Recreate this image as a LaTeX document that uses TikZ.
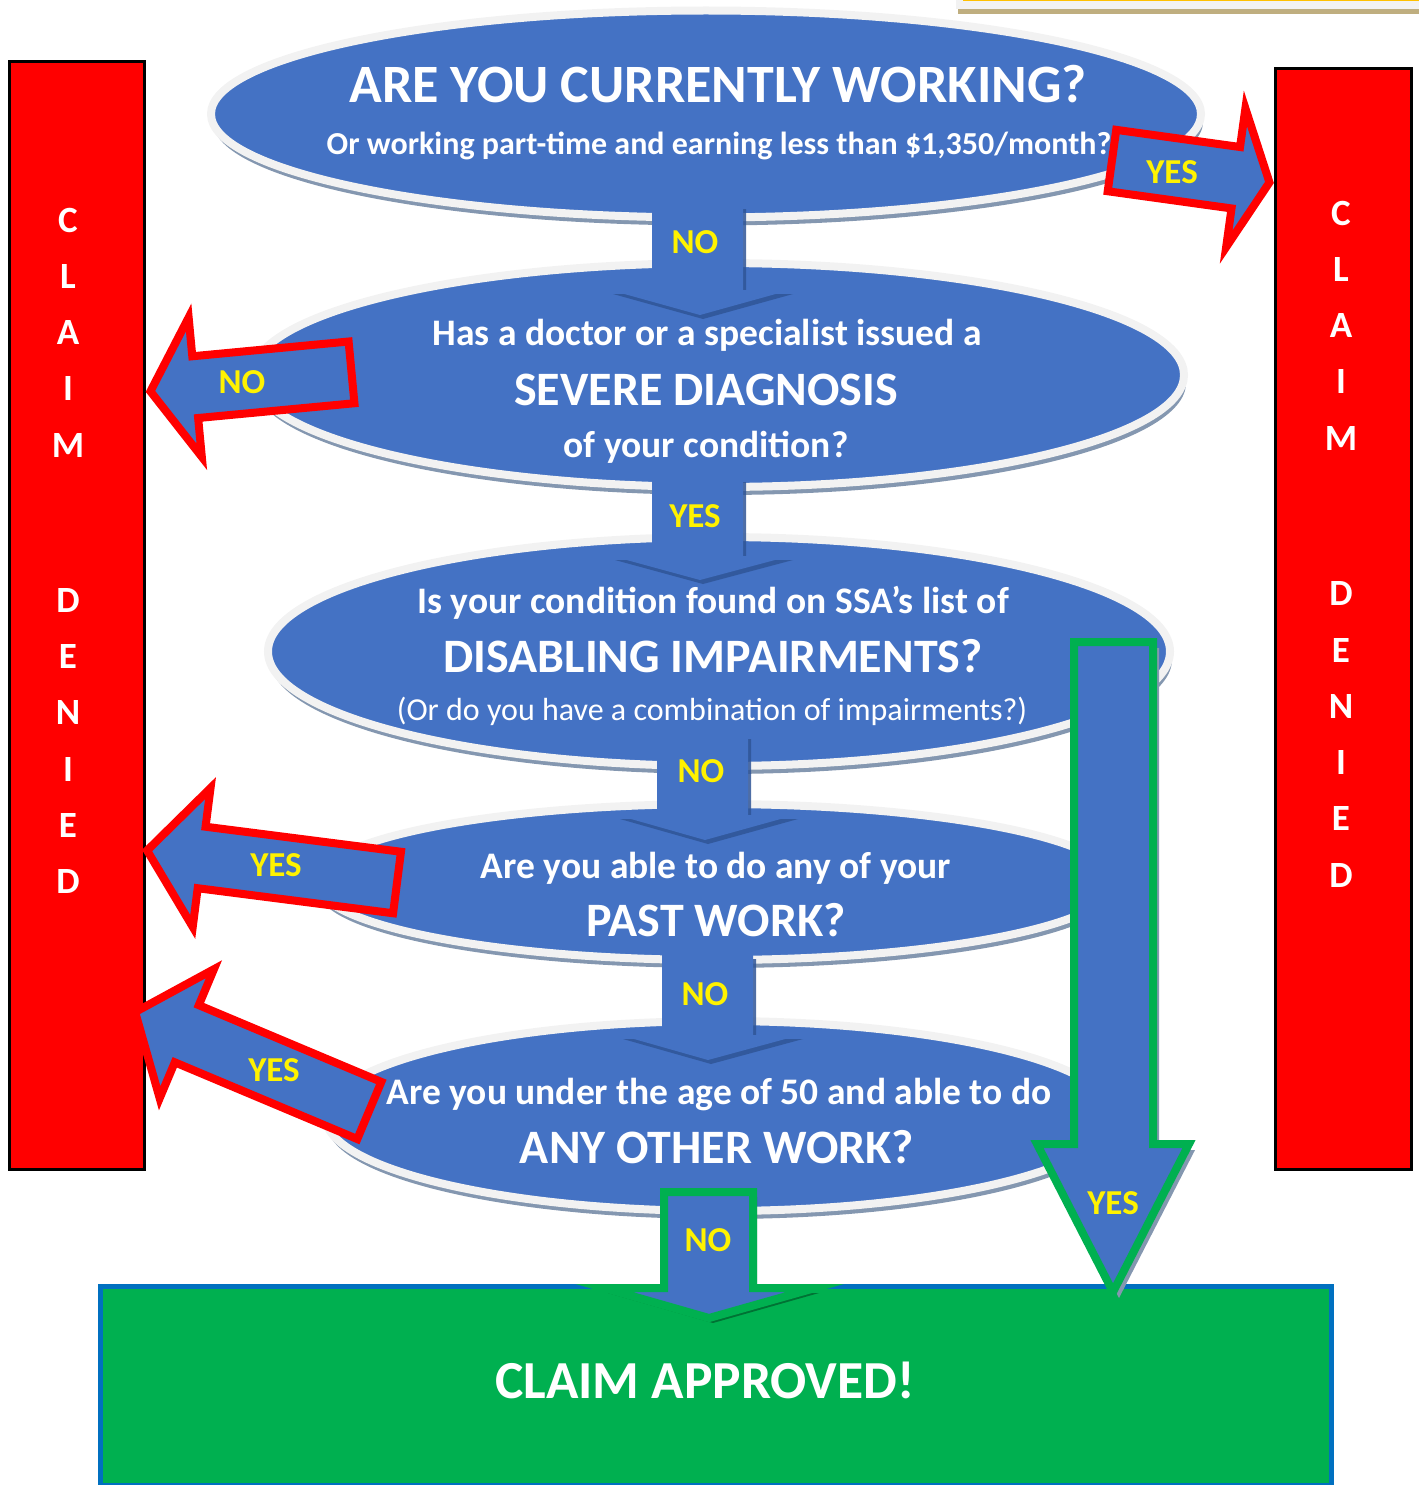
\documentclass[tikz,border=0pt]{standalone}
\usepackage{fontspec}
\setmainfont{Carlito}
\usetikzlibrary{shapes.geometric,shadows}

\definecolor{askblue}{HTML}{4472C4}
\definecolor{ringgray}{HTML}{F2F2F2}
\definecolor{shadegray}{HTML}{8497B0}
\definecolor{darkblue}{HTML}{2F5597}
\definecolor{okgreen}{HTML}{00B050}
\definecolor{boxblue}{HTML}{0070C0}
\definecolor{bartan}{HTML}{BFAE7F}
\definecolor{baryellow}{HTML}{FFC000}

\newcommand{\txtsize}[1]{\fontsize{#1}{#1}\selectfont}

% red side arrow: tail x, tail y, angle, head base, tip
\newcommand{\sidearrow}[5]{%
  \begin{scope}[shift={(#1,#2)}, rotate=#3]
    \draw[sidebody] (4,-31) -- (#4,-31) -- (#4,-70) -- (#5,0) -- (#4,70) -- (#4,31) -- (4,31) -- cycle;
  \end{scope}}

% blue down arrow: shaft left, shaft right, top, head base, head left, head right, tip x, tip y
\newcommand{\stepdown}[8]{%
  \fill[darkblue, opacity=.85, shift={(3,4)}] (#1,#3) -- (#2,#3) -- (#2,#4) -- (#6,#4) -- (#7,#8) -- (#5,#4) -- (#1,#4) -- cycle;
  \fill[askblue] (#1,#3) -- (#2,#3) -- (#2,#4) -- (#6,#4) -- (#7,#8) -- (#5,#4) -- (#1,#4) -- cycle;}

\begin{document}
\begin{tikzpicture}[x=1pt, y=-1pt, line join=miter,
    ask/.style={ellipse, fill=askblue, draw=ringgray, line width=8pt, inner sep=0pt,
      drop shadow={shadow xshift=2pt, shadow yshift=-8pt, fill=shadegray, opacity=1}},
    qtext/.style={text=white, anchor=base, inner sep=0pt},
    answer/.style={text=yellow, font=\bfseries\txtsize{35}, inner sep=0pt},
    denybar/.style={rectangle, fill=red, draw=black, line width=3pt, inner sep=0pt, anchor=north west},
    denytext/.style={text=white, align=center, font=\bfseries\fontsize{37}{56.3}\selectfont, inner sep=0pt},
    sidebody/.style={fill=askblue, draw=red, line width=8pt},
    okbody/.style={fill=askblue, draw=okgreen, line width=8pt}]
  \useasboundingbox (0,0) rectangle (1419,1485);

  % strip in the top corner
  \fill[ringgray] (956,0) rectangle (1419,9);
  \fill[bartan] (958,9) rectangle (1419,14);
  \fill[baryellow] (963,0) rectangle (1419,1.2);

  % claim denied bars
  \node[denybar, minimum width=135pt, minimum height=1108pt] (lbar) at (8,60) {};
  \node[denybar, minimum width=136pt, minimum height=1101pt] (rbar) at (1274,67) {};
  \node[denytext] (lclaim) at (68,332.5) {C\\L\\A\\I\\M};
  \node[denytext] (ldenied) at (68,741) {D\\E\\N\\I\\E\\D};
  \node[denytext] (rclaim) at (1341,325.5) {C\\L\\A\\I\\M};
  \node[denytext] (rdenied) at (1341,734.5) {D\\E\\N\\I\\E\\D};

  % approved box
  \node[rectangle, fill=okgreen, draw=boxblue, line width=5pt, inner sep=0pt, anchor=north west,
    minimum width=1231pt, minimum height=199pt] (okbox) at (97.5,1283.5) {};

  % questions
  \node[ask, minimum width=990pt, minimum height=207pt] (q1) at (706,114) {};
  \node[ask, minimum width=932pt, minimum height=224pt] (q2) at (718,375) {};
  \node[ask, minimum width=902pt, minimum height=229pt] (q3) at (719,651.5) {};
  \node[ask, minimum width=800pt, minimum height=156pt] (q4) at (716,882) {};
  \node[ask, minimum width=790pt, minimum height=190pt] (q5) at (720,1116) {};

  % steps down
  \stepdown{652}{743}{205}{290}{610}{790}{700}{315}
  \stepdown{652}{743}{478}{556}{612}{790}{700}{580}
  \stepdown{657}{748}{735}{815}{617}{795}{705}{840}
  \stepdown{662}{753}{955}{1035}{620}{800}{708}{1060}

  % side answers
  \sidearrow{1108}{160}{-7.9}{129}{163}
  \sidearrow{355.5}{372}{185.4}{161}{206}
  \sidearrow{401}{883}{172.7}{201}{256}
  \sidearrow{373}{1112}{157.2}{202}{258}

  % green answers
  \fill[shadegray, shift={(6,6)}] (1074,642) -- (1153,642) -- (1153,1144) -- (1189,1144) -- (1113,1292) -- (1037,1144) -- (1074,1144) -- cycle;
  \draw[okbody] (1074,642) -- (1153,642) -- (1153,1144) -- (1189,1144) -- (1113,1292) -- (1037,1144) -- (1074,1144) -- cycle;
  \fill[black, opacity=.35, shift={(4,5)}] (664,1192) -- (753,1192) -- (753,1288) -- (815,1288) -- (709,1318) -- (604,1288) -- (664,1288) -- cycle;
  \draw[okbody] (664,1192) -- (753,1192) -- (753,1288) -- (815,1288) -- (709,1318) -- (604,1288) -- (664,1288) -- cycle;

  % texts
  \node[qtext, font=\bfseries\txtsize{54}] (q1a) at (718,103) {ARE YOU CURRENTLY WORKING?};
  \node[qtext, font=\bfseries\txtsize{32}] (q1b) at (719,154) {Or working part-time and earning less than \$1,350/month?};
  \node[qtext, font=\bfseries\txtsize{37.5}] (q2a) at (707,345) {Has a doctor or a specialist issued a};
  \node[qtext, font=\bfseries\txtsize{48}] (q2b) at (706,405) {SEVERE DIAGNOSIS};
  \node[qtext, font=\bfseries\txtsize{37.5}] (q2c) at (706,457) {of your condition?};
  \node[qtext, font=\bfseries\txtsize{37.5}] (q3a) at (713,613) {Is your condition found on SSA’s list of};
  \node[qtext, font=\bfseries\txtsize{48}] (q3b) at (713,672) {DISABLING IMPAIRMENTS?};
  \node[qtext, font=\txtsize{32}] (q3c) at (712,720) {(Or do you have a combination of impairments?)};
  \node[qtext, font=\bfseries\txtsize{37.5}] (q4a) at (716,878) {Are you able to do any of your};
  \node[qtext, font=\bfseries\txtsize{48}] (q4b) at (716,936) {PAST WORK?};
  \node[qtext, font=\bfseries\txtsize{37.5}] (q5a) at (719,1104) {Are you under the age of 50 and able to do};
  \node[qtext, font=\bfseries\txtsize{48}] (q5b) at (717,1163) {ANY OTHER WORK?};
  \node[qtext, font=\bfseries\txtsize{53.5}] (oktext) at (705,1398) {CLAIM APPROVED!};

  % answer labels
  \node[answer] (a1) at (695,242) {NO};
  \node[answer] (a2) at (695,516) {YES};
  \node[answer] (a3) at (701,771) {NO};
  \node[answer] (a4) at (705,994) {NO};
  \node[answer] (a5) at (708,1240) {NO};
  \node[answer] (a6) at (1113,1203) {YES};
  \node[answer] (a7) at (1172,172) {YES};
  \node[answer] (a8) at (242,382) {NO};
  \node[answer] (a9) at (276,865) {YES};
  \node[answer] (a10) at (274,1070) {YES};
\end{tikzpicture}
\end{document}
